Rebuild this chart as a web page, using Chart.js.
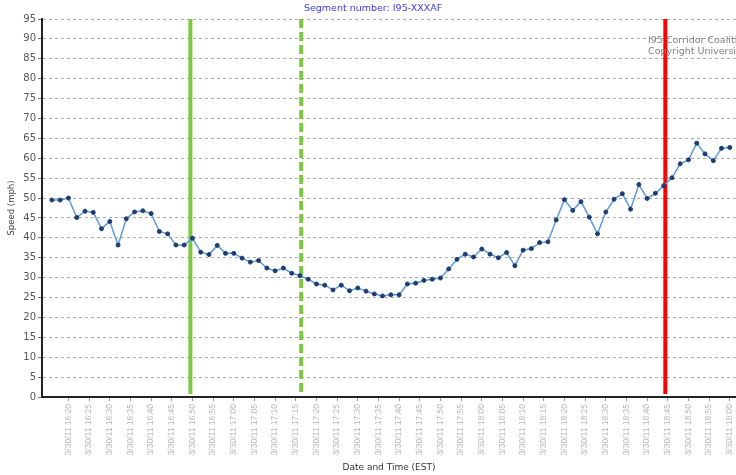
<!DOCTYPE html>
<html><head><meta charset="utf-8">
<script src="https://cdn.jsdelivr.net/npm/chart.js@4"></script>
<style>html,body{margin:0;padding:0;background:#fff}canvas{display:block}</style>
</head><body>
<canvas id="c" width="736" height="475"></canvas>
<script>
const chartTitle = 'Segment number: I95-XXXAF';
const datePrefix = '3/30/11';
const times = ['16:16','16:18','16:20','16:22','16:24','16:26','16:28','16:30','16:32','16:34',
  '16:36','16:38','16:40','16:42','16:44','16:46','16:48','16:50','16:52','16:54',
  '16:56','16:58','17:00','17:02','17:04','17:06','17:08','17:10','17:12','17:14',
  '17:16','17:18','17:20','17:22','17:24','17:26','17:28','17:30','17:32','17:34',
  '17:36','17:38','17:40','17:42','17:44','17:46','17:48','17:50','17:52','17:54',
  '17:56','17:58','18:00','18:02','18:04','18:06','18:08','18:10','18:12','18:14',
  '18:16','18:18','18:20','18:22','18:24','18:26','18:28','18:30','18:32','18:34',
  '18:36','18:38','18:40','18:42','18:44','18:46','18:48','18:50','18:52','18:54',
  '18:56','18:58','19:00'];
const speeds = [49.5,49.5,50.0,45.1,46.7,46.4,42.3,44.1,38.2,44.8,
  46.5,46.8,46.1,41.6,41.0,38.2,38.2,39.9,36.4,35.8,
  38.1,36.1,36.1,34.9,33.9,34.3,32.4,31.7,32.4,31.1,
  30.5,29.6,28.4,28.1,26.9,28.1,26.7,27.4,26.6,25.9,
  25.4,25.7,25.7,28.4,28.6,29.3,29.6,29.9,32.2,34.6,
  35.9,35.2,37.2,35.9,35.0,36.3,33.0,36.9,37.3,38.8,
  39.0,44.5,49.6,46.9,49.1,45.2,41.0,46.5,49.7,51.1,
  47.2,53.4,49.9,51.2,53.1,55.1,58.6,59.6,63.8,61.1,
  59.4,62.5,62.7];
const tickTimes = ['16:20','16:25','16:30','16:35','16:40','16:45','16:50','16:55','17:00','17:05',
  '17:10','17:15','17:20','17:25','17:30','17:35','17:40','17:45','17:50','17:55',
  '18:00','18:05','18:10','18:15','18:20','18:25','18:30','18:35','18:40','18:45',
  '18:50','18:55','19:00'];
const eventTimes = ['16:49:30','17:16:18','18:44:24'];
const xRange = ['16:13:36','19:01:30'];
const watermark = ['I95 Corridor Coalition','Copyright University of Maryland'];

function toMin(t){const p=t.split(':').map(Number);return p[0]*60+p[1]+(p[2]||0)/60;}

const eventStyles = [
  {color:'#7dc745', dash:[]},
  {color:'#7dc745', dash:[9,4]},
  {color:'#ff0000', dash:[]}
];

const overlay = {
  id:'overlay',
  beforeDatasetsDraw(chart){
    const {ctx, chartArea, scales:{x}} = chart;
    ctx.save();
    eventTimes.forEach((t,i)=>{
      const px = x.getPixelForValue(toMin(t));
      ctx.beginPath();
      ctx.strokeStyle = eventStyles[i].color;
      ctx.lineWidth = 4;
      ctx.setLineDash(eventStyles[i].dash);
      ctx.moveTo(px, chartArea.top);
      ctx.lineTo(px, chartArea.bottom-3);
      ctx.stroke();
    });
    ctx.restore();
  },
  afterDraw(chart){
    const ctx = chart.ctx;
    ctx.save();
    ctx.font = '9.5px "DejaVu Sans"';
    ctx.fillStyle = '#3c3ce0';
    ctx.textAlign = 'center';
    ctx.textBaseline = 'middle';
    ctx.fillText(chartTitle, 373, 9);
    ctx.font = '9.5px "DejaVu Sans"';
    ctx.fillStyle = '#808080';
    ctx.textAlign = 'left';
    ctx.fillText(watermark[0], 648, 41);
    ctx.fillText(watermark[1], 648, 52);
    ctx.restore();
  }
};

new Chart(document.getElementById('c'), {
  type:'line',
  data:{datasets:[{
    data: times.map((t,i)=>({x:toMin(t), y:speeds[i]})),
    borderColor:'#5d9ad8',
    borderWidth:1.5,
    pointBackgroundColor:'#1d3d70',
    pointBorderColor:'#1d3d70',
    pointRadius:2,
    pointBorderWidth:1,
    tension:0
  }]},
  options:{
    responsive:false,
    animation:false,
    devicePixelRatio:1,
    layout:{autoPadding:false, padding:{top:19,left:0,right:0,bottom:0}},
    plugins:{legend:{display:false},tooltip:{enabled:false},title:{display:false}},
    scales:{
      x:{
        type:'linear',
        min:toMin(xRange[0]), max:toMin(xRange[1]),
        afterBuildTicks(scale){ scale.ticks = tickTimes.map(t=>({value:toMin(t)})); },
        afterFit(scale){ scale.height = 78; scale.paddingLeft = 0; scale.paddingRight = 0; },
        ticks:{
          autoSkip:false, minRotation:90, maxRotation:90, padding:3,
          color:'#b8b8b8', font:{family:'"Liberation Sans"', size:8.5},
          callback:(v,i)=> datePrefix+' '+tickTimes[i]
        },
        grid:{drawOnChartArea:false, drawTicks:true, tickLength:4, tickColor:'#999'},
        border:{display:true, color:'#222', width:2, dash:[3,1]},
        title:{display:true, text:'Date and Time (EST)', color:'#333',
          font:{family:'"DejaVu Sans"', size:9}, padding:{top:0,bottom:2}}
      },
      y:{
        min:0, max:95,
        afterFit(scale){ scale.width = 42; },
        ticks:{stepSize:5, color:'#555', padding:2, font:{family:'"DejaVu Sans"', size:10}},
        grid:{color:'#aaaaaa', lineWidth:1, tickLength:4, tickColor:'#777'},
        border:{display:true, color:'#222', width:2, dash:[3,3]},
        title:{display:true, text:'Speed (mph)', color:'#444',
          font:{family:'"DejaVu Sans"', size:8.5}, padding:{top:7,bottom:0}}
      }
    }
  },
  plugins:[overlay]
});
</script>
</body></html>
